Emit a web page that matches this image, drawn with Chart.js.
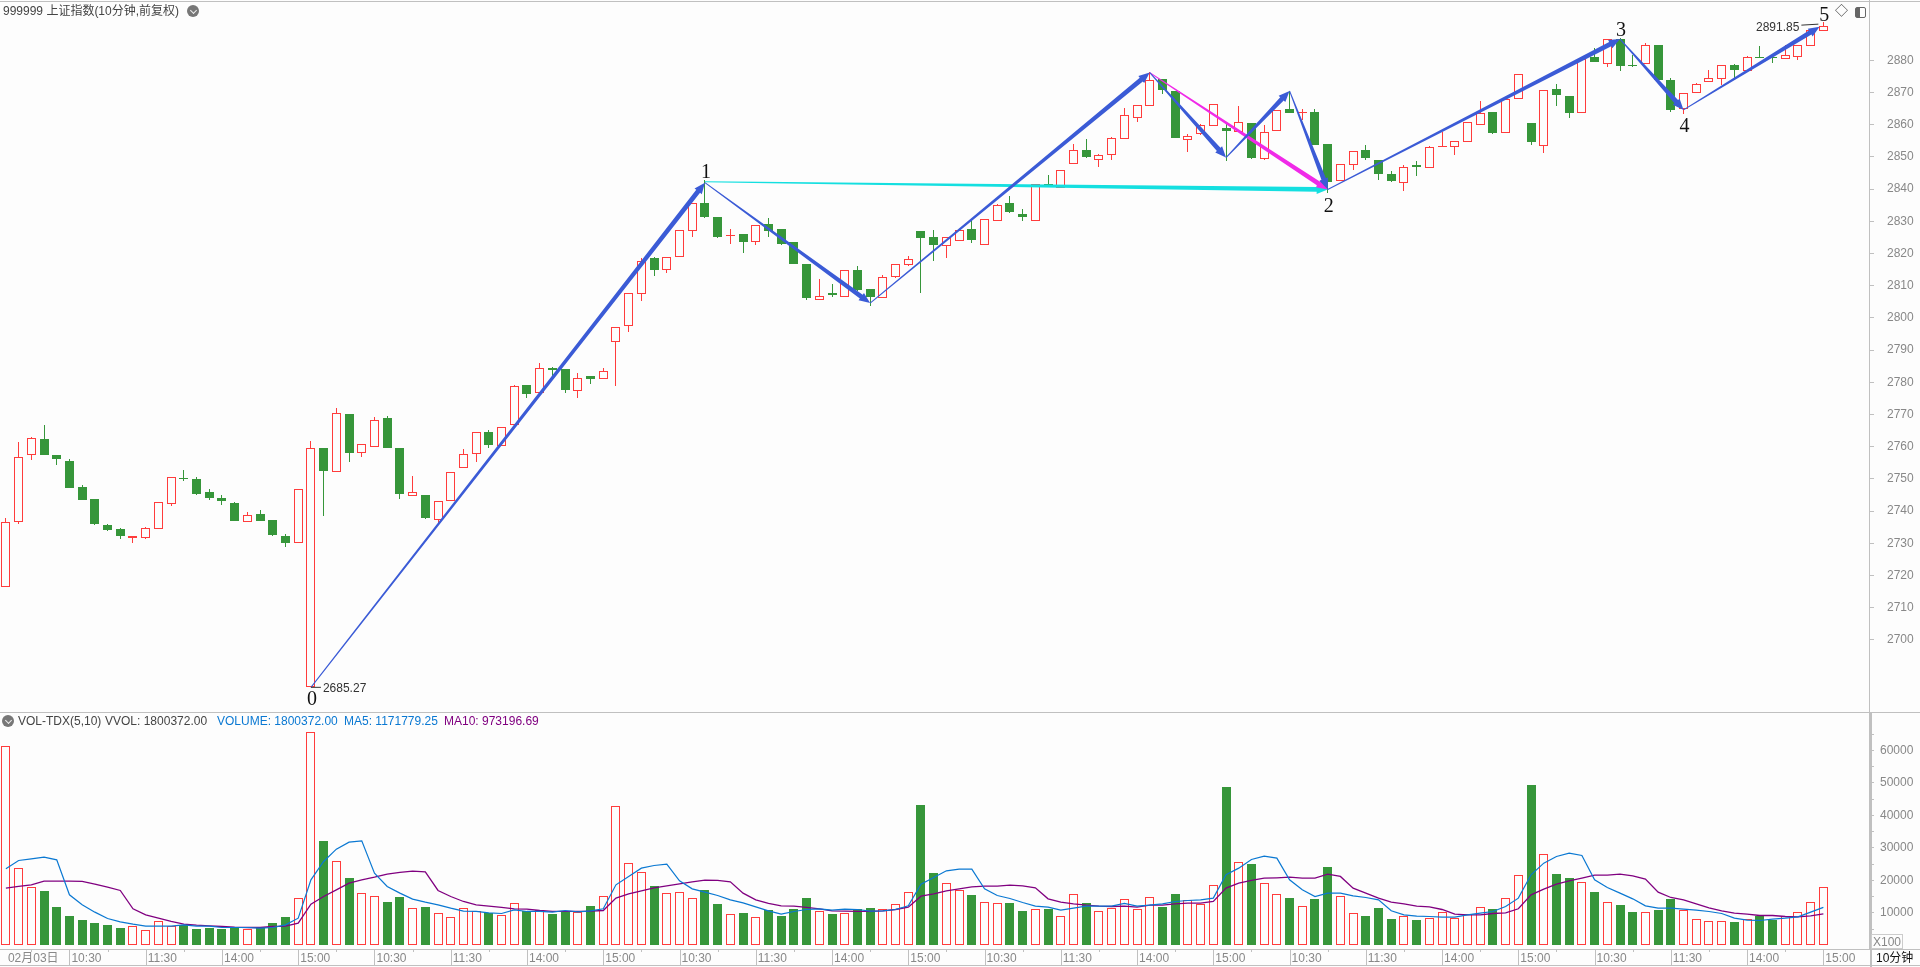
<!DOCTYPE html>
<html>
<head>
<meta charset="utf-8">
<title>上证指数 10分钟</title>
<script src="https://cdn.jsdelivr.net/npm/chart.js@4"></script>
<style>
  html, body { margin: 0; padding: 0; background: #fdfdfd; overflow: hidden; }
  #page { position: relative; width: 1920px; height: 967px; font: 12px "Liberation Sans", "Noto Sans CJK SC", sans-serif; color: #444; }
  canvas { position: absolute; left: 0; }
  .t { position: absolute; white-space: nowrap; line-height: 14px; }
  .rule { position: absolute; left: 0; width: 1920px; height: 1px; background: #c0c0c0; }
  .chev { position: absolute; width: 12px; height: 12px; border-radius: 50%; background: #777; }
  .chev:after { content: ""; position: absolute; left: 3.5px; top: 2.5px; width: 4px; height: 4px; border: solid #eee; border-width: 0 1px 1px 0; transform: rotate(45deg); }
</style>
</head>
<body>
<div id="page">
  <canvas id="priceChart" width="1920" height="713" style="top:0"></canvas>
  <canvas id="volChart" width="1920" height="254" style="top:713px"></canvas>
  <div class="rule" style="top:1px"></div>
  <div class="rule" style="top:712px"></div>
  <div class="rule" style="top:949px"></div>
  <div class="rule" style="top:965px"></div>
  <div style="position:absolute;left:1870px;top:713px;width:2px;height:254px;background:#c0c0c0"></div>

  <div class="t" style="left:3px;top:4px">999999 上证指数(10分钟,前复权)</div>
  <div class="chev" style="left:187px;top:5px"></div>
  <div class="t" style="left:1835px;top:4px;font-size:13px">◇</div>
  <div style="position:absolute;left:1855px;top:7px;width:9px;height:9px;border:1px solid #666;border-radius:2px;background:linear-gradient(90deg,#666 40%,#fdfdfd 40%)"></div>

  <div class="chev" style="left:2px;top:715px"></div>
  <div class="t" style="left:18px;top:714px">VOL-TDX(5,10)</div>
  <div class="t" style="left:105px;top:714px">VVOL: 1800372.00</div>
  <div class="t" style="left:217px;top:714px;color:#0a78d2">VOLUME: 1800372.00</div>
  <div class="t" style="left:344px;top:714px;color:#0a78d2">MA5: 1171779.25</div>
  <div class="t" style="left:444px;top:714px;color:#800080">MA10: 973196.69</div>

  <div class="t" style="left:1871px;top:934px;width:30px;height:13px;border:1px solid #ccc;color:#888;text-align:center">X100</div>
  <div class="t" style="left:1876px;top:951px;color:#111">10分钟</div>
</div>

<script>
const opens = [
  2716.5,2736.7,2757.5,2762.4,2757.4,2755.6,2747.5,2743.8,2735.7,2734.4,2731.8,2731.7,2734.5,2742.3,2750.2,2750,2745.9,2744.1,2742.5,2736.7,2739.1,2737.2,2732.3,2730.2,
  2685.27,2759.6,2752.3,2770.2,2758.1,2760,2768.9,2759.6,2744.8,2745,2737.3,2743,2753.5,2757.8,2764.6,2760.3,2766.8,2779.2,2776.8,2784.3,2784,2777.4,2782,2781.1,
  2792.4,2797.6,2807.5,2818.6,2815,2819,2827.1,2835.7,2831.3,2825.5,2826.1,2823.7,2829.2,2827.6,2823.6,2816.7,2805.7,2807.7,2806.6,2814.9,2809,2806.3,2812.8,2816.5,
  2827,2825.1,2822.4,2824,2827.6,2822.7,2830.2,2835.7,2832.3,2830.2,2841.6,2840.2,2847.9,2852.1,2849.1,2850.7,2855.7,2862.2,2865.9,2874.2,2870.5,2855.4,2857.2,2859.7,
  2859,2857.7,2860.5,2849.5,2858.1,2864.8,2863.5,2863.9,2854,2842.6,2847.6,2852.1,2849,2844.7,2842,2847.5,2846.7,2853.1,2853.2,2854.7,2860,2863.9,2857.5,2868.1,
  2860.5,2853.5,2871.1,2868.9,2863.7,2881,2879,2886.6,2878.4,2879,2884.8,2873.9,2864.8,2870,2873.2,2874.3,2878.5,2876.7,2880.9,2880.9,2880.4,2881.1,2884.5,2889.2
];
const closes = [
  2736.5,2756.7,2762.6,2757.4,2756.3,2747.2,2743.4,2736,2734.1,2732.3,2732.2,2734.6,2742.7,2750.5,2749.9,2745.2,2744.1,2743.1,2736.9,2738.7,2736.9,2732.6,2730.1,2746.8,
  2759.5,2752.5,2770.4,2758,2760.7,2768.2,2759.6,2745.3,2745.8,2737.9,2743,2752.3,2757.6,2764.5,2760.5,2766,2779,2776.4,2784.3,2783.7,2777.6,2781.2,2781,2783.4,
  2797.1,2807.6,2817.6,2814.9,2818.8,2827.2,2835.6,2831.3,2825.1,2825.7,2823.6,2828.8,2827,2823,2816.7,2806.2,2806.7,2807.1,2814.8,2808.7,2806.5,2812.6,2816.6,2818.2,
  2824.8,2822.6,2825,2827.2,2824.2,2830.6,2835,2832.9,2831.3,2841.5,2841.3,2845.8,2852,2850,2850.5,2855.8,2862.9,2866,2873.8,2870.8,2855.9,2856.4,2859.8,2866.3,
  2858,2860.7,2849.7,2857.6,2864.5,2863.6,2863.8,2853.7,2842.2,2847.7,2851.7,2849.7,2844.7,2842.5,2847,2847,2853,2853.4,2854.8,2860.7,2863.5,2857.4,2867.9,2875.9,
  2854.6,2870.7,2869.2,2863.6,2880.3,2879.5,2886.5,2878.2,2878.1,2884.8,2873.9,2864.6,2869.8,2872.5,2874.4,2878.4,2877,2880.9,2880.6,2880.6,2881.6,2884.6,2889.4,2890.6
];
const highs = [
  2738,2761.5,2763,2766.7,2757.4,2756.1,2748.1,2743.8,2736,2734.7,2732.2,2735,2742.7,2750.5,2752.8,2750.6,2746.9,2745,2742.8,2739.7,2740.3,2737.2,2732.9,2746.8,
  2761.8,2759.6,2772,2770.2,2760.7,2769.2,2769.5,2759.6,2750.9,2745,2743,2752.3,2759.2,2764.5,2765.2,2766,2779.3,2779.2,2786,2784.6,2784,2782.9,2782,2784.3,
  2797.1,2807.6,2818.6,2819,2818.8,2827.2,2835.6,2842.8,2831.3,2827.6,2826.1,2828.8,2831,2827.6,2823.6,2816.7,2812.1,2810.5,2814.8,2816.1,2809,2813.3,2816.6,2819.2,
  2827,2827.3,2825,2827.2,2830.4,2830.6,2835.3,2837.9,2833.8,2841.5,2844.4,2845.8,2854,2855.6,2850.9,2856.2,2865.2,2866,2876.3,2874.2,2870.5,2857.1,2860.2,2866.3,
  2860.8,2865.8,2860.5,2859.8,2864.5,2870.5,2864.8,2864.9,2854,2847.7,2851.7,2853.7,2849,2845.6,2847.5,2848.7,2853.3,2857.6,2854.8,2860.7,2867.3,2863.9,2867.9,2875.9,
  2860.5,2870.7,2872.6,2868.9,2880.3,2883.8,2886.5,2887,2881.6,2885.3,2884.8,2874.5,2869.8,2872.9,2877,2878.4,2878.8,2881.3,2884.4,2881,2884.6,2884.6,2889.4,2891.85
];
const lows = [
  2716.5,2736,2755.9,2757.4,2754.3,2747.2,2743.4,2735.7,2733.8,2731.3,2730.1,2731.3,2734.5,2741.6,2749.4,2744.9,2743.4,2741.9,2736.9,2736.7,2736.9,2732.3,2728.9,2730.2,
  2685.27,2738.5,2752.3,2755.2,2756.8,2760,2759.6,2743.8,2744.8,2737.5,2736.2,2743,2753.5,2755.2,2759.6,2760.3,2766.8,2775.1,2776.8,2781.7,2776.7,2775.1,2779.5,2781.1,
  2779,2795.6,2805.3,2813,2814,2819,2825.1,2831,2824.8,2823,2820.2,2822.6,2825.1,2822.6,2816.7,2805.6,2805.7,2806.5,2806.6,2808.4,2803.7,2806.3,2812.4,2816.1,
  2807.7,2817.7,2818.6,2824,2823.3,2822.7,2830.2,2832.6,2830.1,2830.2,2841.3,2840.2,2847.9,2849.7,2846.9,2849,2855.7,2860.8,2865.9,2869.5,2855.9,2851.5,2856.8,2859.7,
  2848.7,2857.7,2849.4,2849.1,2858.1,2863.6,2861.5,2853.7,2838.8,2842.6,2845.9,2849,2842.8,2842.2,2839.4,2844.1,2846.7,2853.1,2850.6,2854.7,2860,2857.1,2857.5,2868.1,
  2853.7,2851.2,2865.8,2862.1,2863.7,2879.5,2877.9,2876.7,2877.9,2879,2873.9,2864,2863.3,2870,2873.2,2872.3,2873.9,2876.7,2880.6,2879.2,2880.4,2880.1,2884.5,2889.2
];

/* volume in hundreds, same bars, with the two averages as drawn */
const volumes = [
  61350,23800,17950,16830,11900,9130,7900,6980,6360,5440,5950,4720,7490,5950,6460,5130,5440,5130,5440,5130,5440,6980,8820,14570,
  65660,32200,25960,20830,16100,15180,13440,14980,11490,11900,9950,8720,11490,10570,9850,9340,13030,10470,10880,9750,10260,10260,12210,15180,
  42890,25340,22570,18370,16100,16420,14570,17130,12830,9640,10050,8720,10980,9130,11290,14670,10570,9750,9950,11180,11590,11180,12720,16420,
  43300,22370,19190,17130,15600,13340,13030,13130,10670,11180,11290,9030,15800,13130,10570,11590,14260,11180,14880,11900,15900,13950,12720,18570,
  48840,25650,25140,19190,15800,14670,12100,14360,24210,15180,9950,9130,11590,8210,9030,7900,8410,10260,8410,9640,11800,11290,14570,21650,
  49450,28110,22060,20830,19490,16520,13340,12520,10360,10260,10980,14360,10980,8110,7490,7490,7280,8110,9230,7900,9230,10260,13340,18004
];
const ma5 = [
  23600,26160,26680,27190,26370,15600,12520,10260,8310,7280,6570,5950,5950,5950,6360,5950,5950,5540,5540,5540,5340,5540,6360,8410,
  20210,25860,29650,31810,32220,22260,18160,16110,14260,13340,12520,11490,10570,10470,10050,9850,10980,10470,10470,10260,10770,10360,10670,11290,
  18670,21240,23800,24620,25030,19900,17440,16420,15390,14060,13130,11900,10670,9640,10470,11080,11290,10880,11180,11080,10570,10670,11080,12210,
  18880,20930,22980,23500,23500,17440,15390,14470,13240,12110,11800,10880,11490,12110,12110,12110,12930,12110,12410,12830,13540,13850,14060,14570,
  21750,23800,26470,27500,26880,20210,17130,15080,16110,16110,15290,14770,14060,10670,9440,9030,8930,8720,8720,9440,9950,10470,12000,14570,
  21750,25340,27390,28420,27700,20210,17850,16110,14360,12210,11490,11490,11180,10880,10470,9850,8410,7800,7700,8110,8410,8820,10260,11718
];
const ma10 = [
  17650,18160,18670,19800,19800,19800,19700,18880,17950,16930,11290,9440,8410,7390,6570,6260,6050,5850,5640,5540,5540,5850,5950,6870,
  12720,15080,17130,19190,20210,21030,21960,22470,22880,22670,16930,15080,13540,12520,12110,11700,11290,11180,10770,10470,10470,10470,10570,10770,
  14570,15900,16830,17750,18370,18980,19600,20110,20010,19600,16110,14060,12930,12210,12100,11700,11290,10670,10570,10470,10470,10670,11080,11800,
  15180,15900,16830,17440,18060,18260,18260,18570,18370,17750,14360,13340,12830,12410,12110,12000,12110,11800,12410,12410,12830,13030,13030,13540,
  17650,19190,20010,20700,20830,21030,20730,20730,21960,21240,17650,16110,14570,13340,12830,12110,11900,11080,9640,9440,9440,9850,10050,11290,
  15600,17340,18880,19900,20730,21650,21650,21960,21440,20420,16420,14770,14060,12830,11590,10670,9950,9640,9230,9230,8930,8820,9130,9732
];

/* axis ticks */
const priceTicks = [2700,2710,2720,2730,2740,2750,2760,2770,2780,2790,2800,2810,2820,2830,2840,2850,2860,2870,2880];
const volTicks = [5000,10000,15000,20000,25000,30000,35000,40000,45000,50000,55000,60000,65000];
const volLabels = [10000,20000,30000,40000,50000,60000];
const timeTickIdx = [0,5,11,17,23,29,35,41,47,53,59,65,71,77,83,89,95,101,107,113,119,125,131,137,143];
const timeTickLabels = ["02月03日","10:30","11:30","14:00","15:00","10:30","11:30","14:00","15:00","10:30","11:30","14:00","15:00","10:30","11:30","14:00","15:00","10:30","11:30","14:00","15:00","10:30","11:30","14:00","15:00"];
const minorTickIdx = [2,8,14,20,26,32,38,44,50,56,62,68,74,80,86,92,98,104,110,116,122,128,134,140];

/* wave annotation, bar index and price of each turning point */
const waveIdx = [24,55,68,90,96,101,104,127,132,142.7];
const wavePrice = [2685.27,2842,2804.6,2876.2,2849.8,2870.5,2839.9,2886.6,2864.6,2890.4];
const cyanIdx = [55,104];
const cyanPrice = [2842.3,2839.9];
const magentaIdx = [90,104];
const magentaPrice = [2876.2,2839.9];
const waveLabels = ["0","1","2","3","4","5"];
const waveLabelIdx = [24,55,104,127,132,143];
const waveLabelPrice = [2681.5,2845.2,2834.6,2889.1,2859.4,2893.9];

const UP = "#ff3c3c", DOWN = "#36963a", BG = "#fdfdfd", AXIS = "#c0c0c0", TICK = "#888888";
const BLUE = "#3b5bd6", CYAN = "#14dfe0", MAGENTA = "#f02ae8";
const FONT = '"Liberation Sans", "Noto Sans CJK SC", sans-serif';
const XMIN = -0.464, XMAX = 146.59;

Chart.defaults.font.family = FONT;
Chart.defaults.font.size = 12;
Chart.defaults.animation = false;

const isUp = i => closes[i] >= opens[i];
const xs = opens.map((_, i) => i);

// thin at the start, fat at the tip, like the drawing tool in the terminal
function arrow(c, x0, y0, x1, y1, color) {
  const a = Math.atan2(y1 - y0, x1 - x0), len = Math.hypot(x1 - x0, y1 - y0), head = 11;
  c.save();
  c.translate(x0, y0);
  c.rotate(a);
  c.fillStyle = color;
  c.beginPath();
  c.moveTo(0, -0.5);
  c.lineTo(len - head, -2.4);
  c.lineTo(len - head, -4.6);
  c.lineTo(len, 0);
  c.lineTo(len - head, 4.6);
  c.lineTo(len - head, 2.4);
  c.lineTo(0, 0.5);
  c.closePath();
  c.fill();
  c.restore();
}

// the terminal draws on whole pixels, so snap the bars after the scales placed them
const snapBars = {
  id: "snapBars",
  afterDatasetsUpdate(chart) {
    chart.data.datasets.forEach((ds, k) => {
      const meta = chart.getDatasetMeta(k);
      if (meta.type !== "bar") return;
      meta.data.forEach(el => {
        el.x = Math.floor(el.x) + (el.width % 2 ? 0.5 : 0);
        el.y = Math.round(el.y);
        el.base = Math.round(el.base);
        if (el.y === el.base) el.y = el.base - 1;
      });
    });
  }
};

const wavePlugin = {
  id: "wave",
  afterDatasetsDraw(chart) {
    const c = chart.ctx, X = chart.scales.x, Y = chart.scales.y;
    const pair = (ix, pr, col) => arrow(c, X.getPixelForValue(ix[0]), Y.getPixelForValue(pr[0]), X.getPixelForValue(ix[1]), Y.getPixelForValue(pr[1]), col);
    pair(cyanIdx, cyanPrice, CYAN);
    pair(magentaIdx, magentaPrice, MAGENTA);
    for (let i = 0; i < waveIdx.length - 1; i++) {
      pair([waveIdx[i], waveIdx[i + 1]], [wavePrice[i], wavePrice[i + 1]], BLUE);
    }
    c.save();
    c.fillStyle = "#111";
    c.font = '20px "Liberation Serif", serif';
    c.textAlign = "center";
    c.textBaseline = "middle";
    waveLabels.forEach((t, i) => c.fillText(t, X.getPixelForValue(waveLabelIdx[i]) + 1, Y.getPixelForValue(waveLabelPrice[i])));
    // the two extreme prices with their small leader lines
    c.font = "12px " + FONT;
    c.fillStyle = "#333";
    c.strokeStyle = "#333";
    c.lineWidth = 1;
    const lowX = X.getPixelForValue(24), lowY = Y.getPixelForValue(2685.27);
    c.beginPath(); c.moveTo(lowX, lowY); c.lineTo(lowX + 10, lowY); c.stroke();
    c.textAlign = "left";
    c.fillText("2685.27", lowX + 12, lowY + 1);
    const hiX = X.getPixelForValue(143), hiY = Y.getPixelForValue(2891.85);
    c.beginPath(); c.moveTo(hiX - 22, hiY + 3); c.lineTo(hiX - 5, hiY + 2); c.stroke();
    c.textAlign = "right";
    c.fillText("2891.85", hiX - 24, hiY + 6);
    c.restore();
  }
};

const timeMarks = {
  id: "timeMarks",
  afterDraw(chart) {
    const c = chart.ctx, X = chart.scales.x, top = chart.chartArea.bottom;
    c.save();
    c.strokeStyle = AXIS;
    c.lineWidth = 1;
    c.beginPath();
    timeTickIdx.slice(1).forEach(i => { const p = Math.round(X.getPixelForValue(i)) + 0.5; c.moveTo(p, top); c.lineTo(p, top + 16); });
    minorTickIdx.forEach(i => { const p = Math.round(X.getPixelForValue(i)) + 0.5; c.moveTo(p, top); c.lineTo(p, top + 3); });
    c.stroke();
    c.restore();
  }
};

const noEdgePadding = s => { s.paddingTop = 0; s.paddingBottom = 0; s.paddingLeft = 0; s.paddingRight = 0; };

new Chart(document.getElementById("priceChart"), {
  type: "bar",
  data: {
    datasets: [
      { // body sits on top of the wick so hollow candles stay hollow
        data: xs.map(i => ({ x: i, y: [opens[i], closes[i]] })),
        backgroundColor: xs.map(i => isUp(i) ? BG : DOWN),
        borderColor: xs.map(i => isUp(i) ? UP : DOWN),
        borderWidth: 1, borderSkipped: false, inflateAmount: 0, barThickness: 9, grouped: false, order: 1
      },
      {
        data: xs.map(i => ({ x: i, y: [lows[i], highs[i]] })),
        backgroundColor: xs.map(i => isUp(i) ? UP : DOWN),
        borderWidth: 0, inflateAmount: 0, barThickness: 1, grouped: false, order: 2
      }
    ]
  },
  options: {
    responsive: false,
    layout: { padding: 0 },
    plugins: { legend: { display: false }, tooltip: { enabled: false } },
    scales: {
      x: { type: "linear", offset: false, min: XMIN, max: XMAX, display: false },
      y: {
        position: "right", min: 2677.3, max: 2898.73,
        afterFit: s => { s.width = 51; noEdgePadding(s); },
        afterBuildTicks: s => { s.ticks = priceTicks.map(v => ({ value: v })); },
        border: { color: AXIS },
        grid: { drawOnChartArea: false, tickLength: 5, color: AXIS },
        ticks: { color: TICK, padding: 13, callback: v => String(v) }
      }
    }
  },
  plugins: [snapBars, wavePlugin]
});

new Chart(document.getElementById("volChart"), {
  type: "bar",
  data: {
    datasets: [
      {
        data: xs.map(i => ({ x: i, y: volumes[i] })),
        backgroundColor: xs.map(i => isUp(i) ? BG : DOWN),
        borderColor: xs.map(i => isUp(i) ? UP : DOWN),
        borderWidth: 1, borderSkipped: false, inflateAmount: 0, barThickness: 9, grouped: false, order: 3
      },
      { type: "line", data: xs.map(i => ({ x: i, y: ma10[i] })), borderColor: "#800080", borderWidth: 1.3, pointRadius: 0, tension: 0, order: 2 },
      { type: "line", data: xs.map(i => ({ x: i, y: ma5[i] })), borderColor: "#0a78d2", borderWidth: 1.2, pointRadius: 0, tension: 0, order: 1 }
    ]
  },
  options: {
    responsive: false,
    layout: { padding: 0 },
    plugins: { legend: { display: false }, tooltip: { enabled: false } },
    scales: {
      x: {
        type: "linear", offset: false, min: XMIN, max: XMAX,
        afterFit: s => { s.height = 18; noEdgePadding(s); },
        afterBuildTicks: s => { s.ticks = timeTickIdx.map(v => ({ value: v })); },
        border: { display: false },
        grid: { display: false, drawTicks: false },
        ticks: {
          autoSkip: false, maxRotation: 0, align: "start", labelOffset: 2, padding: 2, color: TICK,
          callback: v => timeTickLabels[timeTickIdx.indexOf(v)]
        }
      },
      y: {
        position: "right", min: -1077, max: 71538,
        afterFit: s => { s.width = 51; noEdgePadding(s); },
        afterBuildTicks: s => { s.ticks = volTicks.map(v => ({ value: v })); },
        border: { color: AXIS },
        grid: { drawOnChartArea: false, tickLength: 5, color: AXIS },
        ticks: { color: TICK, padding: 6, callback: v => volLabels.includes(v) ? String(v) : "" }
      }
    }
  },
  plugins: [snapBars, timeMarks]
});
</script>
</body>
</html>
